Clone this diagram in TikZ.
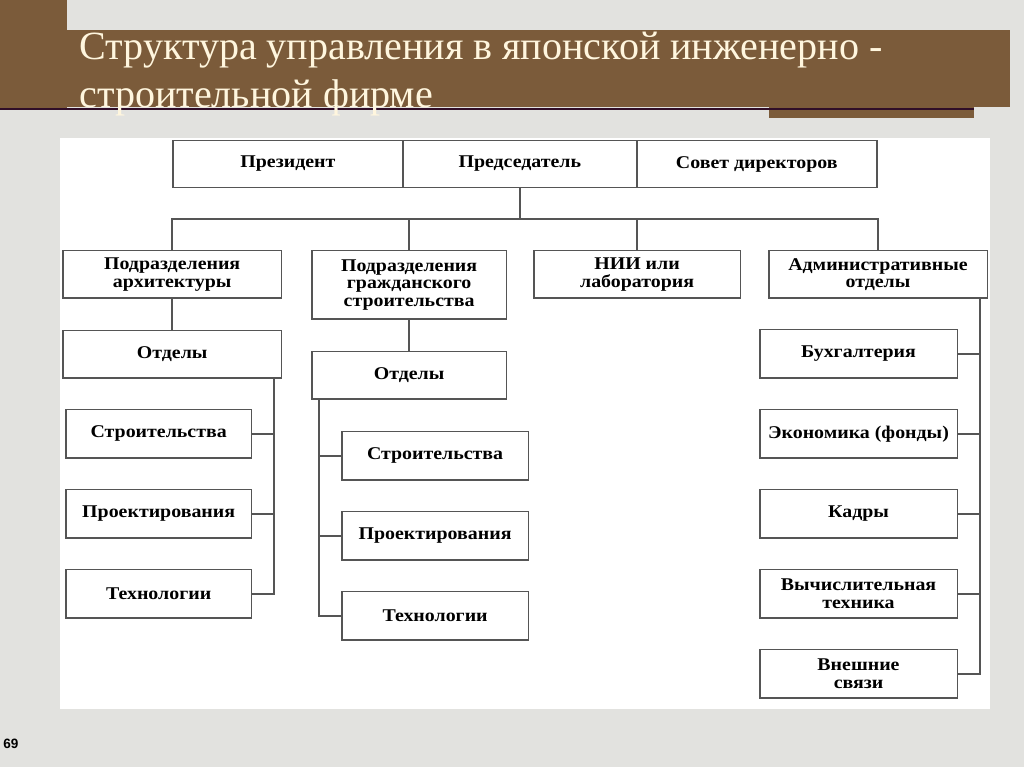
\documentclass[tikz,border=0pt]{standalone}
\usepackage{fontspec}
\setmainfont{Liberation Serif}
\newfontfamily\boxfamily[FakeStretch=1.11]{Liberation Serif}
\newfontfamily\numfont{Liberation Sans}
\usetikzlibrary{positioning}
\definecolor{slidegray}{RGB}{226,226,223}
\definecolor{titlebrown}{RGB}{123,91,58}
\definecolor{titlecream}{RGB}{255,246,222}
\definecolor{ruleplum}{RGB}{48,14,40}
\definecolor{boxgray}{RGB}{85,85,85}
\newcommand{\boxfont}{\boxfamily\fontsize{10.2}{10}\selectfont\bfseries}
\tikzset{
  orgbox/.style={rectangle, draw=boxgray, line width=0.85pt, fill=white,
    align=center, minimum height=0.95cm, inner sep=1pt, font=\boxfont},
  subbox/.style={orgbox, minimum height=0.97cm},
  link/.style={draw=boxgray, line width=0.85pt},
  titletext/.style={text=titlecream, align=left, inner sep=0pt,
    font=\fontsize{22.8}{27.2}\selectfont},
  pagenum/.style={inner sep=0pt, font=\numfont\bfseries\fontsize{7.7}{9}\selectfont}
}
\begin{document}
\begin{tikzpicture}[x=0.02cm, y=-0.02cm]
  % slide background and title bar
  \fill[slidegray] (0,0) rectangle (1024,767);
  \useasboundingbox (0,0) rectangle (1024,767);
  \fill[titlebrown] (0,0) rectangle (67,108);
  \fill[titlebrown] (67,30) rectangle (1010,107);
  \fill[titlebrown] (769,107) rectangle (974,118);
  \fill[ruleplum] (0,108.5) rectangle (974,110.5);
  \fill[white] (60,138) rectangle (990,709);
  \node[titletext, anchor=north west] (title) at (79,32)
    {Структура управления в японской инженерно -\\строительной фирме};
  \node[pagenum] (page) at (11,744) {69};

  % top management
  \node[orgbox, minimum width=4.6cm] (president) at (287.9,164) {Президент};
  \node[orgbox, minimum width=4.68cm, right=-0.85pt of president] (chairman)
    {Председатель};
  \node[orgbox, minimum width=4.8cm, right=-0.85pt of chairman] (board)
    {Совет директоров};

  % divisions
  \node[orgbox, minimum width=4.37cm, below=1.23cm of president.south west]
    (archdiv) {Подразделения\\архитектуры};
  \node[orgbox, minimum width=3.89cm, minimum height=1.37cm,
    right=0.58cm of archdiv.north east, anchor=north west] (civildiv)
    {Подразделения\\гражданского\\строительства};
  \node[orgbox, minimum width=4.13cm, right=0.52cm of civildiv.north east,
    anchor=north west] (nii) {НИИ или\\лаборатория};
  \node[orgbox, minimum width=4.37cm, right=0.54cm of nii.north east,
    anchor=north west] (admindiv) {Административные\\отделы};

  % departments
  \node[orgbox, minimum width=4.37cm, below=0.62cm of archdiv] (archdept) {Отделы};
  \node[orgbox, minimum width=3.89cm, below=0.62cm of civildiv] (civildept) {Отделы};

  \node[subbox, minimum width=3.71cm, below=0.6cm of archdept.south west,
    anchor=north west, xshift=0.06cm] (archbuild) {Строительства};
  \node[subbox, minimum width=3.71cm, below=0.6cm of archbuild] (archdesign)
    {Проектирования};
  \node[subbox, minimum width=3.71cm, below=0.6cm of archdesign] (archtech)
    {Технологии};

  \node[subbox, minimum width=3.73cm, below=0.62cm of civildept.south west,
    anchor=north west, xshift=0.6cm] (civbuild) {Строительства};
  \node[subbox, minimum width=3.73cm, below=0.6cm of civbuild] (civdesign)
    {Проектирования};
  \node[subbox, minimum width=3.73cm, below=0.6cm of civdesign] (civtech)
    {Технологии};

  \node[subbox, minimum width=3.95cm, below=0.6cm of admindiv.south west,
    anchor=north west, xshift=-0.18cm] (accounting) {Бухгалтерия};
  \node[subbox, minimum width=3.95cm, below=0.6cm of accounting] (economics)
    {Экономика (фонды)};
  \node[subbox, minimum width=3.95cm, below=0.6cm of economics] (staff) {Кадры};
  \node[subbox, minimum width=3.95cm, below=0.6cm of staff] (computing)
    {Вычислительная\\техника};
  \node[subbox, minimum width=3.95cm, below=0.6cm of computing] (external)
    {Внешние\\связи};

  % connectors
  \draw[link] (chairman.south) -- ++(0,30.5) coordinate (bus);
  \draw[link] (archdiv.north) |- (bus) -| (admindiv.north);
  \draw[link] (civildiv.north) -- (civildiv.north |- bus);
  \draw[link] (nii.north) -- (nii.north |- bus);
  \draw[link] (archdiv) -- (archdept);
  \draw[link] (civildiv) -- (civildept);

  \coordinate (archtrunk) at ([xshift=-0.16cm]archdept.south east);
  \draw[link] (archtrunk) |- (archtech.east);
  \draw[link] (archbuild.east) -- (archbuild.east -| archtrunk);
  \draw[link] (archdesign.east) -- (archdesign.east -| archtrunk);

  \coordinate (civtrunk) at ([xshift=0.16cm]civildept.south west);
  \draw[link] (civtrunk) |- (civtech.west);
  \draw[link] (civbuild.west) -- (civbuild.west -| civtrunk);
  \draw[link] (civdesign.west) -- (civdesign.west -| civtrunk);

  \coordinate (admintrunk) at ([xshift=-0.16cm]admindiv.south east);
  \draw[link] (admintrunk) |- (external.east);
  \draw[link] (accounting.east) -- (accounting.east -| admintrunk);
  \draw[link] (economics.east) -- (economics.east -| admintrunk);
  \draw[link] (staff.east) -- (staff.east -| admintrunk);
  \draw[link] (computing.east) -- (computing.east -| admintrunk);
\end{tikzpicture}
\end{document}
